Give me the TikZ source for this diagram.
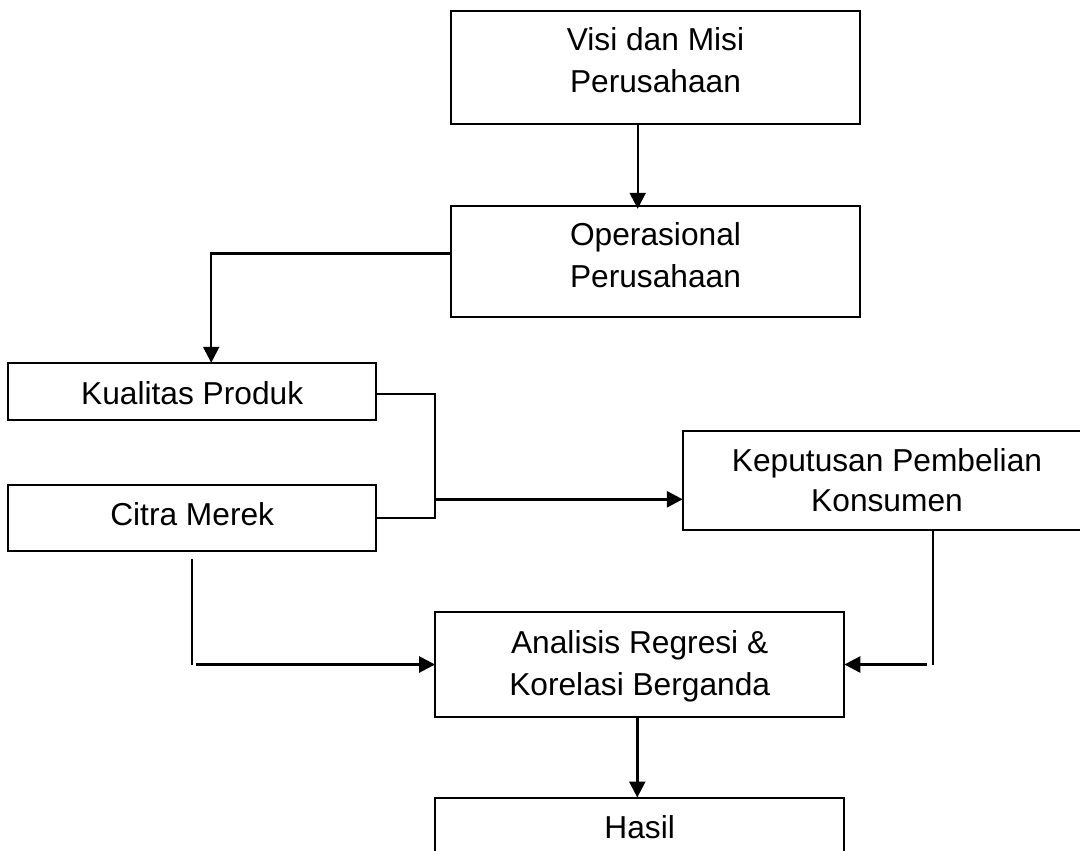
\documentclass[tikz,border=0pt]{standalone}
\usepackage{fontspec}
\setmainfont{Liberation Sans}
\usetikzlibrary{arrows.meta,calc}
\begin{document}
\begin{tikzpicture}[x=1pt,y=-1pt,
  box/.style={draw=black,line width=2pt,inner sep=0pt,outer sep=0pt,rectangle},
  txt/.style={inner sep=0pt,anchor=base,font=\fontsize{31.7}{40}\selectfont},
  conn/.style={draw=black,line width=2pt},
  arr/.style={draw=black,line width=2.8pt,-{Triangle[length=16pt 0,width=16pt 0]}}]
\useasboundingbox (0,0) rectangle (1080,851);
\clip (0,0) rectangle (1080,851);
\fill[white] (0,0) rectangle (1080,851);
% boxes
\node[box,minimum width=409pt,minimum height=113pt] (visi) at (655.5,67.2) {};
\node[box,minimum width=409pt,minimum height=111.3pt] (op) at (655.5,261.4) {};
\node[box,minimum width=367.7pt,minimum height=57.3pt] (kual) at (192.2,391.4) {};
\node[box,minimum width=367.7pt,minimum height=66.3pt] (citra) at (192.2,518.2) {};
\node[box,minimum width=408.3pt,minimum height=99pt] (kep) at (886.9,480.2) {};
\node[box,minimum width=409.3pt,minimum height=105.6pt] (ana) at (639.7,664.5) {};
\node[box,minimum width=409.3pt,minimum height=87pt] (hasil) at (639.7,841) {};
% texts
\node[txt] (visiA) at (655.5,50.7) {Visi dan Misi};
\node[txt] (visiB) at (655.5,92.7) {Perusahaan};
\node[txt] (opA) at (655.5,245) {Operasional};
\node[txt] (opB) at (655.5,287.3) {Perusahaan};
\node[txt] (kualA) at (192.2,404.3) {Kualitas Produk};
\node[txt] (citraA) at (192.2,525.7) {Citra Merek};
\node[txt] (kepA) at (887,471.7) {Keputusan Pembelian};
\node[txt] (kepB) at (887,511.7) {Konsumen};
\node[txt] (anaA) at (639.7,653.3) {Analisis Regresi \&};
\node[txt] (anaB) at (639.7,695) {Korelasi Berganda};
\node[txt] (hasilA) at (639.7,838.3) {Hasil};
% connectors
\draw[arr,line width=2.4pt] ([xshift=-17.8pt]visi.south) -- ([xshift=-17.8pt,yshift=-3pt]op.north);
\draw[arr,line width=2.4pt] ([yshift=8pt]op.west) -| ([xshift=19pt]kual.north);
\coordinate (j) at (435.3,499.3);
\draw[conn] ([yshift=-2.6pt]kual.east) -| (j) |- (citra.east);
\draw[arr] (j) -- (j -| kep.west);
\coordinate (c1) at ([yshift=-8pt]citra.south);
\coordinate (c2) at (c1 |- ana.west);
\draw[conn] (c1) -- (c2);
\draw[arr] ([xshift=3.5pt]c2) -- (ana.west);
\coordinate (k1) at ([xshift=46.4pt]kep.south);
\coordinate (k2) at (k1 |- ana.east);
\draw[conn] (k1) -- (k2);
\draw[arr] ([xshift=-6.6pt]k2) -- (ana.east);
\draw[arr,line width=2.4pt] ([xshift=-2.4pt]ana.south) -- ([xshift=-2.4pt]hasil.north);
\end{tikzpicture}
\end{document}
